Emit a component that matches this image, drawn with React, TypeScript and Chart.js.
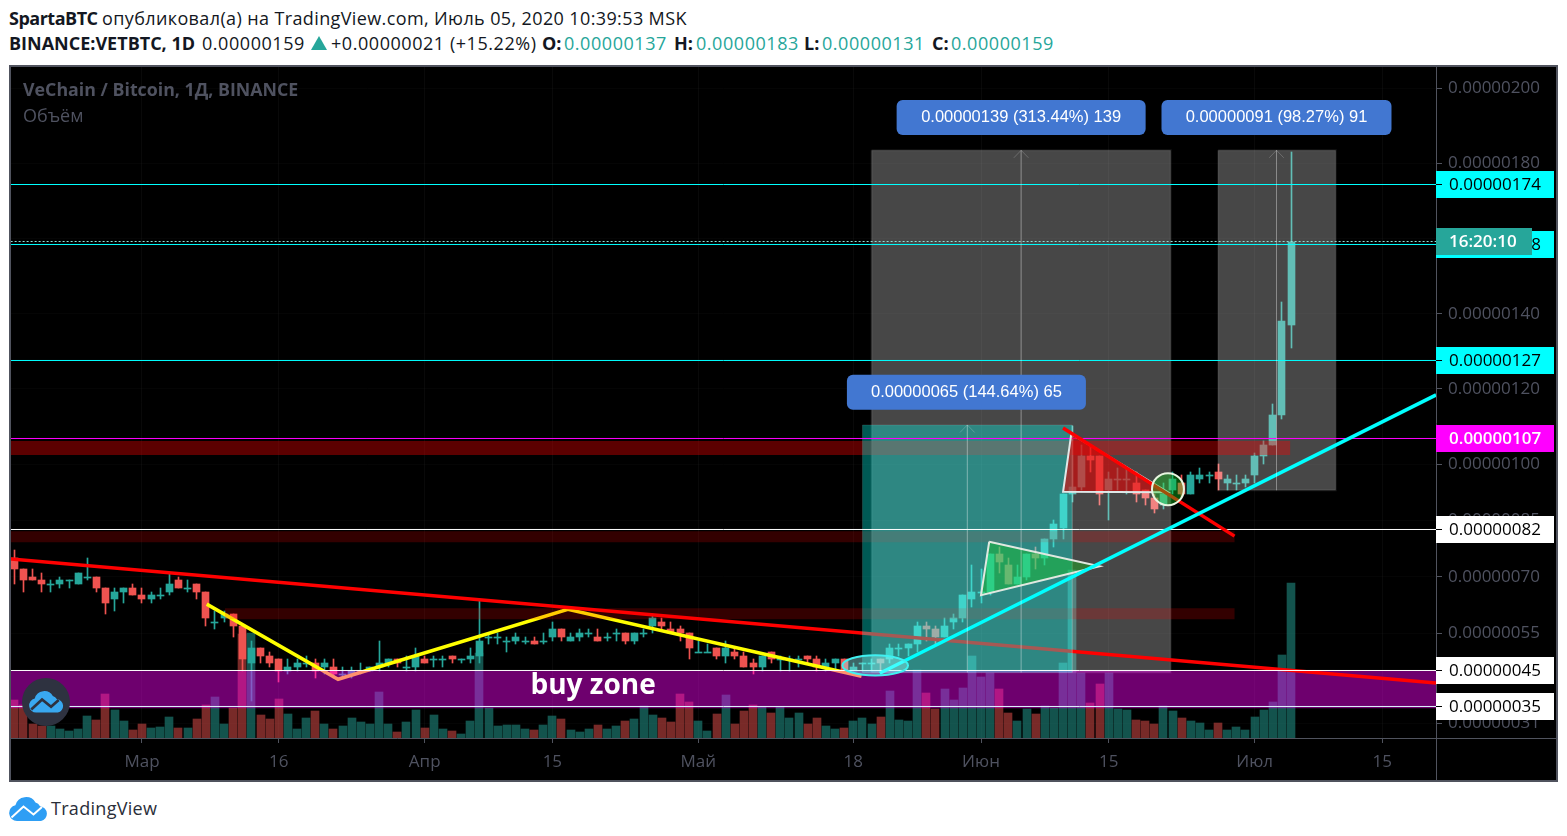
import React, { useEffect, useRef } from "react";
import { Chart, registerables } from "chart.js";

Chart.register(...registerables);

// Days counted from 1 March 2020; candles start on 16 February.
const firstDay = -14;
const opens = [75,72,70,69,68,68,69,68,70,70,67,64,66,67,65,64,65,66,69,67,68,66,58,59,60,57,47,51,49,48,45,46,47,47,46,46,44,44,45,45,46,47,48,46,46,48,48,48,49,48,48,49,54,54,53,53,53,53,53,54,56,53,54,55,54,54,55,55,53,55,57,58,56,56,55,50,50,51,49,50,49,47,46,50,48,48,48,49,48,46,47,48,45,47,47,48,48,51,51,52,57,56,54,58,59,64,66,66,76,73,68,70,76,75,80,83,92,94,102,102,93,96,96,95,93,91,89,93,95,92,96,97,98,95,95,95,97,102,105,113,137];
const closes = [72,69,69,68,68,69,69,71,70,67,63,66,67,65,64,65,65,68,67,67,66,59,58,60,57,48,51,49,47,45,46,47,47,45,47,44,44,45,45,46,47,48,47,46,49,47,48,48,48,48,49,53,54,54,53,54,53,52,53,56,54,54,55,55,53,54,55,53,55,55,59,57,55,55,51,50,50,49,51,49,46,46,49,48,48,48,48,48,46,47,48,45,46,47,47,47,51,51,52,57,56,54,57,59,65,66,66,76,74,68,70,76,75,80,84,92,94,102,101,92,96,96,96,92,91,88,92,96,92,97,97,97,96,96,95,96,102,105,113,138,159];
const highs = [77,72,72,71,69,70,69,71,75,70,67,67,67,68,67,66,67,71,70,69,68,66,61,61,60,57,53,51,50,48,48,48,49,48,48,48,46,46,47,46,53,48,48,49,51,49,49,49,49,48,51,64,55,55,54,55,54,54,55,58,56,55,56,56,56,55,56,55,55,56,60,59,58,57,55,53,52,51,53,51,50,48,49,50,49,49,49,49,49,48,48,48,47,47,48,48,52,52,52,58,58,57,59,60,65,73,72,76,78,75,73,76,78,80,85,92,110,105,105,102,98,99,99,98,93,92,95,98,97,98,99,98,100,97,97,97,103,106,116,143,183];
const lows = [68,66,69,66,66,67,67,68,69,66,60,61,63,65,63,63,64,65,67,66,64,57,56,58,54,45,37,47,46,42,44,45,46,43,44,43,43,43,44,45,45,46,46,45,45,47,46,46,47,47,47,47,52,52,50,52,52,52,52,53,53,53,53,54,53,53,53,52,52,54,55,56,55,53,48,50,50,48,47,48,46,44,45,47,45,45,46,47,45,45,45,45,45,45,45,45,47,49,49,50,53,52,54,56,58,62,63,65,71,68,68,69,72,73,78,80,90,93,98,89,85,93,92,90,89,87,88,92,91,92,95,95,93,93,93,94,95,100,105,112,131];
const volumes = [38,33,14,12,12,9,7,9,22,18,44,28,17,8,14,10,11,21,10,10,19,33,41,14,30,104,105,23,19,39,24,9,20,27,14,9,12,20,16,14,46,14,6,16,28,10,23,9,7,4,17,85,30,12,13,13,9,8,13,22,19,8,6,9,13,9,12,17,19,32,23,20,16,44,36,17,7,24,43,14,27,33,31,25,31,20,25,14,20,12,9,10,17,20,14,21,47,18,17,68,45,29,49,38,50,82,61,65,49,25,17,29,24,32,30,75,168,65,35,54,65,29,28,18,17,14,32,27,20,17,15,8,15,8,11,8,21,28,36,83,155];

const xTickDays = [0, 15, 31, 45, 61, 78, 92, 106, 122, 136];
const xTickLabels = ["Мар", "16", "Апр", "15", "Май", "18", "Июн", "15", "Июл", "15"];
const yTickValues = [200, 180, 160, 140, 120, 100, 85, 70, 55, 31];

const grayBoxes = [
  [80, 112.8, 183.5, 44.5],
  [118, 130.9, 183.5, 93],
];
const tealBox = [79, 102, 110.4, 44.5];
const darkBands = [
  [-14.4, 125.9, 106.1, 102.4, 0.36],
  [-14.4, 119.8, 82.1, 79.2, 0.2],
  [9.1, 119.8, 61.6, 58.7, 0.2],
];
const buyZone = [-14.4, 141.9, 45, 35];
const fallingLine = [[-14.4, 74.7], [141.9, 41.7]];
const zigzag = [[7.1, 62.7], [21.5, 42.7], [46.7, 61.3], [78.9, 43.5]];
const risingLine = [[80.9, 44.3], [141.9, 118.4]];
const flagLine = [[101, 109.6], [119.8, 80.8]];
const greenTriangle = [[92.9, 79.3], [92, 65.1], [105, 72.8]];
const redTriangle = [[101.9, 108], [101, 92.6], [112.5, 92.5]];
const arrows = [
  [96.4, 183.5, 44.5],
  [124.4, 183.5, 93],
  [90.5, 110.4, 44.5],
];
const levelLines = [
  [174.395, "#00ffff"],
  [158.425, "#00ffff"],
  [127.55, "#00ffff"],
  [106.79, "#ff00ff"],
  [82.57, "#ffffff"],
  [45.04, "#ffffff"],
  [35.46, "#dff4ff"],
];
const lastPrice = 159.22;
const axisPills = [
  [174.395, "0.00000174", "#00ffff", "#000000"],
  [158.425, "0.00000158", "#00ffff", "#000000"],
  [127.55, "0.00000127", "#00ffff", "#000000"],
  [106.79, "0.00000107", "#ff00ff", "#ffffff"],
  [82.57, "0.00000082", "#ffffff", "#000000"],
  [45.04, "0.00000045", "#ffffff", "#000000"],
  [35.46, "0.00000035", "#ffffff", "#000000"],
];
const measures = [
  [96.4, 192.2, 249, "0.00000139 (313.44%) 139"],
  [124.4, 192.2, 230, "0.00000091 (98.27%) 91"],
  [90.4, 119.1, 239, "0.00000065 (144.64%) 65"],
];
const UP = "#26a69a";
const DOWN = "#ef5350";
const AXIS = "#50535e";
const CLOUD = "M8 24a8 8 0 0 1-1.6-15.8A11 11 0 0 1 26.5 5.6 8 8 0 0 1 31 9.2a7.5 7.5 0 0 1 1 14.8Z";
const CLOUD_LINE = "M2.5 20.5 14.5 9.5 24.5 17.5 33 10";

const crispBars = {
  id: "crispBars",
  afterDatasetsUpdate(chart: any) {
    chart.getSortedVisibleDatasetMetas().forEach((meta: any) => {
      if (meta.type !== "bar") return;
      meta.data.forEach((el: any) => {
        el.x = el.width % 2 ? Math.floor(el.x) + 0.5 : Math.round(el.x);
        el.y = Math.round(el.y);
        el.base = Math.round(el.base);
        if (el.y === el.base) el.base = el.y + 1;
      });
    });
  },
};

const overlay = {
  id: "overlay",
  afterDatasetsDraw(chart: any) {
    const { ctx, scales } = chart;
    const X = (d: number) => scales.x.getPixelForValue(d);
    const Y = (p: number) => scales.y.getPixelForValue(p);
    const ellipse = (d: number, p: number, rd: number, rp: number, fill: string, stroke: string) => {
      ctx.beginPath();
      ctx.ellipse(X(d), Y(p), Math.abs(X(d + rd) - X(d)), Math.abs(Y(p + rp) - Y(p)), 0, 0, Math.PI * 2);
      ctx.fillStyle = fill;
      ctx.fill();
      ctx.lineWidth = 2;
      ctx.strokeStyle = stroke;
      ctx.stroke();
    };
    ctx.save();
    ellipse(80.4, 46.4, 3.6, 2.7, "rgba(150,255,255,0.4)", "#40f0f0");
    ellipse(112.5, 93.3, 1.75, 4.27, "rgba(20,200,30,0.4)", "#e8f5e0");

    ctx.fillStyle = "#ffffff";
    ctx.font = "700 28px 'Open Sans'";
    ctx.textAlign = "left";
    ctx.textBaseline = "middle";
    ctx.fillText("buy zone", X(42.6), Y(40.8));

    ctx.fillStyle = "#4f5260";
    ctx.font = "700 17.8px 'Open Sans'";
    ctx.fillText("VeChain / Bitcoin, 1Д, BINANCE", 12, 24);
    ctx.font = "400 18px 'Open Sans'";
    ctx.fillText("Объём", 12, 50);

    measures.forEach(([d, p, w, text]: any) => {
      ctx.beginPath();
      ctx.roundRect(X(d) - w / 2, Y(p) - 17.5, w, 35, 6);
      ctx.fillStyle = "#4277d1";
      ctx.fill();
      ctx.fillStyle = "#ffffff";
      ctx.font = "16.5px 'Liberation Sans'";
      ctx.textAlign = "center";
      ctx.fillText(text, X(d), Y(p));
    });

    // round logo badge on the chart
    ctx.translate(35, 635);
    ctx.beginPath();
    ctx.arc(0, 0, 24, 0, Math.PI * 2);
    ctx.fillStyle = "#2e3240";
    ctx.fill();
    ctx.translate(-17, -11);
    ctx.scale(0.9, 0.9);
    ctx.fillStyle = "#39a8f0";
    ctx.fill(new Path2D(CLOUD));
    ctx.strokeStyle = "#2e3240";
    ctx.lineWidth = 3;
    ctx.stroke(new Path2D(CLOUD_LINE));
    ctx.restore();
  },
  afterDraw(chart: any) {
    const { ctx, scales, chartArea } = chart;
    const Y = (p: number) => scales.y.getPixelForValue(p);
    const right = Math.round(chartArea.right);
    ctx.save();
    ctx.strokeStyle = AXIS;
    ctx.lineWidth = 1;
    ctx.beginPath();
    ctx.moveTo(right + 0.5, 0);
    ctx.lineTo(right + 0.5, chart.height);
    ctx.moveTo(0, Math.round(chartArea.bottom) + 0.5);
    ctx.lineTo(chart.width, Math.round(chartArea.bottom) + 0.5);
    ctx.stroke();

    ctx.textBaseline = "middle";
    ctx.textAlign = "left";
    axisPills.forEach(([p, text, bg, fg]: any) => {
      const y = Math.floor(Y(p));
      ctx.fillStyle = bg;
      ctx.fillRect(right, y - 13, 118, 27);
      if (fg === "#000000") {
        ctx.fillStyle = "#000000";
        ctx.fillRect(right, y, 6, 1);
      }
      ctx.fillStyle = fg;
      ctx.font = fg === "#ffffff" ? "600 17px 'Open Sans'" : "17px 'Open Sans'";
      ctx.fillText(text, right + 13, y + 1);
    });
    const ty = Math.floor(Y(lastPrice));
    ctx.fillStyle = UP;
    ctx.fillRect(right, ty - 13, 96, 27);
    ctx.fillStyle = "#ffffff";
    ctx.font = "600 17px 'Open Sans'";
    ctx.fillText("16:20:10", right + 13, ty + 1);
    ctx.restore();
  },
};

const xy = (pts: number[][]) => pts.map(([x, y]) => ({ x, y }));
const line = (pts: number[][], color: string, width: number, extra: any = {}) => ({
  type: "line", data: xy(pts), borderColor: color, borderWidth: width, pointRadius: 0,
  tension: 0, fill: false, xAxisID: "x", yAxisID: "y", ...extra,
});
const box = ([x1, x2, top, bottom]: number[], color: string, edge = "rgba(0,0,0,0)", edgeW = 0) => ({
  type: "line",
  data: xy([[x1, top], [x2, top], [x2, bottom], [x1, bottom], [x1, top]]),
  fill: "shape", backgroundColor: color, borderColor: edge, borderWidth: edgeW, pointRadius: 0,
  tension: 0, xAxisID: "x", yAxisID: "y",
});
const poly = (pts: number[][], color: string, edge: string, w: number) => ({
  type: "line", data: xy([...pts, pts[0]]), fill: "shape", backgroundColor: color,
  borderColor: edge, borderWidth: w, pointRadius: 0, tension: 0, xAxisID: "x", yAxisID: "y",
});

const dayOf = (i: number) => firstDay + i;
const colorOf = opens.map((o, i) => (closes[i] >= o ? UP : DOWN));

function buildDatasets() {
  const paintOrder: any[] = [
    {
      type: "bar", yAxisID: "vol", xAxisID: "x", barThickness: 8, grouped: false,
      data: volumes.map((v, i) => ({ x: dayOf(i), y: v })),
      backgroundColor: colorOf.map((c) => (c === UP ? "rgba(38,166,154,0.5)" : "rgba(239,83,80,0.5)")),
    },
    {
      type: "bar", yAxisID: "y", xAxisID: "x", barThickness: 1, grouped: false,
      data: opens.map((_, i) => ({ x: dayOf(i), y: [lows[i], highs[i]] })),
      backgroundColor: colorOf,
    },
    {
      type: "bar", yAxisID: "y", xAxisID: "x", barThickness: 7, grouped: false,
      data: opens.map((o, i) => ({ x: dayOf(i), y: [o, closes[i]] })),
      backgroundColor: colorOf,
    },
    ...grayBoxes.map((b) => box(b, "rgba(255,255,255,0.28)", "rgba(255,255,255,0.08)", 2)),
    line(zigzag, "#ffff00", 3.5),
    ...darkBands.map(([a, b, c, d, alpha]) => box([a, b, c, d], `rgba(255,0,0,${alpha})`)),
    box(buyZone, "rgba(255,0,255,0.43)"),
    line(fallingLine, "#ff0000", 3.5),
    box(tealBox, "rgba(0,255,240,0.35)", "rgba(255,255,255,0.1)", 1),
    ...levelLines.map(([p, c]: any) => line([[-14.4, p], [141.9, p]], c, 1)),
    line([[-14.4, lastPrice], [141.9, lastPrice]], "#8fe0d8", 1, { borderDash: [2, 2] }),
    poly(greenTriangle, "rgba(20,200,30,0.4)", "#e0e8e0", 2),
    poly(redTriangle, "rgba(230,0,0,0.6)", "#dfe8e8", 2),
    line(flagLine, "#ff0000", 3.5),
    line(risingLine, "#00ffff", 3.5),
    ...arrows.flatMap(([d, top, bottom]) => [
      line([[d, top], [d, bottom]], "rgba(255,255,255,0.15)", 1),
      line([[d - 0.8, top - 2], [d, top], [d + 0.8, top - 2]], "rgba(255,255,255,0.2)", 1),
    ]),
  ];
  return paintOrder.map((d, i) => ({ ...d, order: -i }));
}

export default function App() {
  const ref = useRef<HTMLCanvasElement>(null);
  useEffect(() => {
    const chart = new Chart(ref.current as any, {
      data: { datasets: buildDatasets() as any },
      plugins: [crispBars, overlay],
      options: {
        responsive: false,
        animation: false,
        events: [],
        layout: { padding: 0 },
        plugins: { legend: { display: false }, tooltip: { enabled: false } },
        scales: {
          x: {
            type: "linear", min: -14.36, max: 141.89, position: "bottom", offset: false,
            afterFit: (s: any) => { s.height = 42; s.paddingLeft = 0; s.paddingRight = 0; },
            afterBuildTicks: (s: any) => { s.ticks = xTickDays.map((value) => ({ value })); },
            grid: { color: "rgba(255,255,255,0.035)", tickColor: AXIS, tickLength: 5, drawOnChartArea: true, offset: false },
            border: { display: false },
            ticks: {
              autoSkip: false, maxRotation: 0, color: "#4f5260", padding: 9,
              font: { family: "'Open Sans'", size: 17 },
              callback: (v: any) => xTickLabels[xTickDays.indexOf(Number(v))] ?? "",
            },
          },
          y: {
            type: "linear", position: "right", min: 27.07, max: 205.67,
            afterFit: (s: any) => { s.width = 120; s.paddingTop = 0; s.paddingBottom = 0; },
            afterBuildTicks: (s: any) => { s.ticks = yTickValues.map((value) => ({ value })); },
            grid: { color: "rgba(255,255,255,0.02)", tickColor: AXIS, tickLength: 6 },
            border: { display: false },
            ticks: {
              autoSkip: false, color: "#4f5260", padding: 6,
              font: { family: "'Open Sans'", size: 17 },
              callback: (v: any) => (Number(v) / 1e8).toFixed(8),
            },
          },
          vol: { type: "linear", display: false, min: 0, max: 671 },
        },
      } as any,
    });
    return () => chart.destroy();
  }, []);

  const font = "'Open Sans', sans-serif";
  const row = (left: number, top: number, text: string, style: any = {}) => (
    <span style={{ position: "absolute", left, top, whiteSpace: "nowrap", lineHeight: "24px", ...style }}>{text}</span>
  );
  const dark = "#131722";
  const spaced = { letterSpacing: "0.55px" };
  return (
    <div style={{ position: "fixed", left: 0, top: 0, width: 1567, height: 836, background: "#fff", fontFamily: font, fontSize: 18, color: dark, overflow: "hidden" }}>
      {row(9, 6, "SpartaBTC", { fontWeight: 700, letterSpacing: "-0.5px" })}
      {row(102, 6, "опубликовал(а) на TradingView.com, Июль 05, 2020 10:39:53 MSK", { letterSpacing: "0.38px" })}
      {row(9, 31, "BINANCE:VETBTC, 1D", { fontWeight: 700 })}
      {row(202, 31, "0.00000159", spaced)}
      <div style={{ position: "absolute", left: 311, top: 36, width: 0, height: 0, borderLeft: "8px solid transparent", borderRight: "8px solid transparent", borderBottom: `14px solid ${UP}` }} />
      {row(331, 31, "+0.00000021 (+15.22%)", spaced)}
      {row(542, 31, "O:", { fontWeight: 700 })}
      {row(564, 31, "0.00000137", { color: UP, ...spaced })}
      {row(674, 31, "H:", { fontWeight: 700 })}
      {row(696, 31, "0.00000183", { color: UP, ...spaced })}
      {row(804, 31, "L:", { fontWeight: 700 })}
      {row(822, 31, "0.00000131", { color: UP, ...spaced })}
      {row(932, 31, "C:", { fontWeight: 700 })}
      {row(951, 31, "0.00000159", { color: UP, ...spaced })}
      <div style={{ position: "absolute", left: 9, top: 65, width: 1549, height: 717, boxSizing: "border-box", border: `2px solid ${AXIS}`, background: "#000" }} />
      <canvas ref={ref} width={1545} height={713} style={{ position: "absolute", left: 11, top: 67, width: 1545, height: 713 }} />
      <svg style={{ position: "absolute", left: 9, top: 797 }} width={39} height={25} viewBox="0 0 39 25">
        <path d={CLOUD} fill="#2e9ef4" />
        <path d={CLOUD_LINE} fill="none" stroke="#fff" strokeWidth={2} />
      </svg>
      {row(51, 796, "TradingView", { color: "#2a2e39", letterSpacing: "0.3px" })}
    </div>
  );
}
